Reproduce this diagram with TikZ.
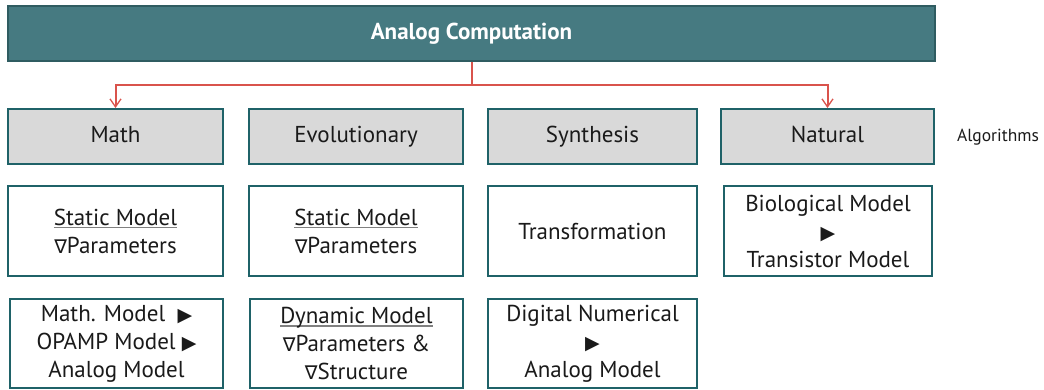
\documentclass[tikz,border=0pt]{standalone}
\usepackage{fontspec}
\usepackage{amssymb}
\usepackage{xcolor}
\usepackage{tikz}
\usetikzlibrary{arrows.meta}
\setmainfont{PT Sans}
\newfontfamily\symfont{DejaVu Sans}

\definecolor{headfill}{HTML}{467A81}
\definecolor{headline}{HTML}{2F5C61}
\definecolor{catfill}{HTML}{D9D9D9}
\definecolor{boxline}{HTML}{1F6268}
\definecolor{linkred}{HTML}{D9534C}
\definecolor{txt}{HTML}{1A1A1A}

\newcommand{\playtri}{{\symfont\fontsize{19}{20}\selectfont ▶}}
\newcommand{\nab}{{\symfont\fontsize{19}{20}\selectfont ∇}}
\newcommand{\ulmodel}[1]{\setbox0\hbox{#1}\rlap{\color{gray}\rule[-3pt]{\wd0}{1.2pt}}\box0}

\tikzset{
  headbox/.style={draw=headline, fill=headfill, line width=1.5pt, inner sep=0pt,
    minimum width=927pt, minimum height=55pt, text=white,
    text height=16pt, text depth=5pt,
    font=\fontsize{23}{27}\selectfont\bfseries},
  catbox/.style={draw=boxline, fill=catfill, line width=2pt, inner sep=0pt,
    minimum height=55pt, text=txt, text height=16pt, text depth=5pt,
    font=\fontsize{23}{27}\selectfont},
  modelbox/.style={draw=boxline, fill=white, line width=2pt, inner sep=0pt,
    align=center, text=txt, font=\fontsize{23}{28}\selectfont},
  link/.style={color=linkred, line width=2pt},
  linkarrow/.style={link, -{Straight Barb[length=8pt,width=11pt,line width=1.3pt]}}
}

\begin{document}
\begin{tikzpicture}[x=1pt,y=-1pt]
	\useasboundingbox (0,0) rectangle (1044,389);
	% top
	\node[headbox] (head) at (471.5,33.5) {Analog Computation};
	% categories
	\node[catbox, minimum width=215pt] (math) at (115.5,136.5) {Math};
	\node[catbox, minimum width=214pt] (evol) at (356,136.5) {Evolutionary};
	\node[catbox, minimum width=209pt] (synth) at (592.5,136.5) {Synthesis};
	\node[catbox, minimum width=213pt] (nat) at (827.5,136.5) {Natural};
	\node[text=txt, font=\fontsize{17.5}{20}\selectfont] (algo) at (998,137) {Algorithms};
	% second row
	\node[modelbox, minimum width=215pt, minimum height=90pt] (mathA) at (115.5,231)
		{\ulmodel{Static Model}\\\nab Parameters};
	\node[modelbox, minimum width=214pt, minimum height=90pt] (evolA) at (356,231)
		{\ulmodel{Static Model}\\\nab Parameters};
	\node[modelbox, minimum width=209pt, minimum height=90pt] (synthA) at (592.5,231)
		{Transformation};
	\node[modelbox, minimum width=208pt, minimum height=90pt] (natA) at (828,231)
		{Biological Model\\\playtri\\Transistor Model};
	% third row
	\node[modelbox, minimum width=213pt, minimum height=89pt] (mathB) at (116.5,343.5)
		{Math. Model~~\playtri\\OPAMP Model \playtri\\Analog Model};
	\node[modelbox, minimum width=213pt, minimum height=89pt] (evolB) at (356.5,343.5)
		{\ulmodel{Dynamic Model}\\\nab Parameters \&\\\nab Structure};
	\node[modelbox, minimum width=209pt, minimum height=89pt] (synthB) at (592.5,343.5)
		{Digital Numerical\\\playtri\\Analog Model};
	% connectors
	\draw[link] (head.south) -- ++(0,23.5) coordinate (split);
	\draw[linkarrow] (split) -| (math.north);
	\draw[linkarrow] (split) -| (nat.north);
\end{tikzpicture}
\end{document}
